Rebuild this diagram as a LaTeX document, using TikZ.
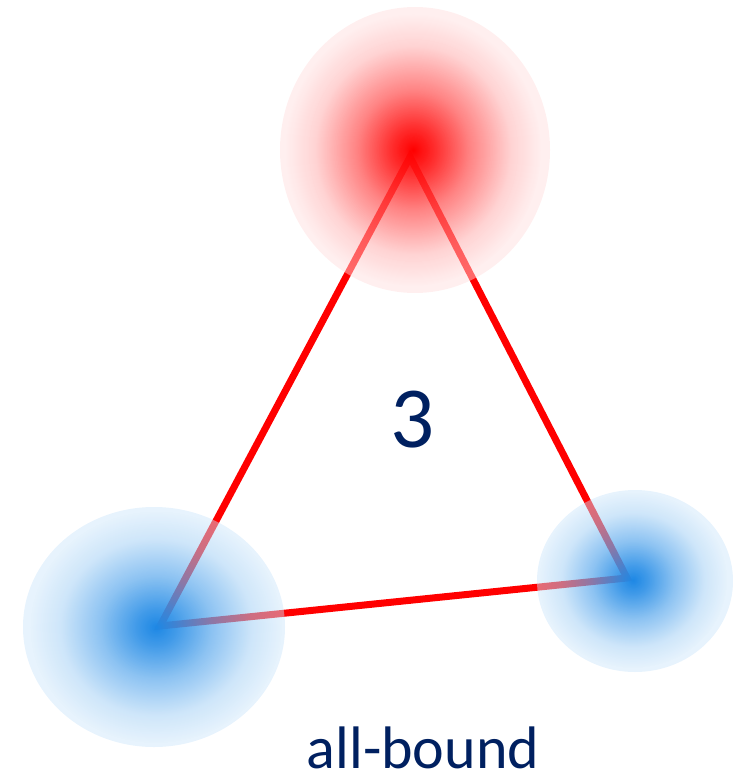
\documentclass[tikz,border=0pt]{standalone}
\usepackage{fontspec}
\setmainfont{Carlito}
\usetikzlibrary{fadings}
\pgfdeclareradialshading{glowshade}{\pgfpointorigin}{color(0bp)=(white); color(4bp)=(white!82!black); color(11bp)=(white!45!black); color(19bp)=(white!12!black); color(25bp)=(black); color(50bp)=(black)}
\pgfdeclarefading{glowfade}{\pgfuseshading{glowshade}}
\definecolor{navy}{RGB}{0,32,96}
\definecolor{pinkveil}{RGB}{255,222,222}
\definecolor{blueveil}{RGB}{203,229,250}
\definecolor{bluecore}{RGB}{30,136,229}
\begin{document}
\begin{tikzpicture}[x=1pt,y=-1pt,
  edge/.style={red, line width=7pt, line join=miter},
  veil/.style={fill opacity=0.47},
  glow/.style={path fading=glowfade}]
\useasboundingbox (0,0) rectangle (732,778);
\coordinate (T) at (410,157);
\coordinate (L) at (160,626);
\coordinate (R) at (627,578);
\draw[edge] (T) -- (L) -- (R) -- cycle;
% red blob
\fill[pinkveil, veil] (415,150) ellipse [x radius=135pt, y radius=143pt];
\fill[red, glow] (413,150) ellipse [x radius=128pt, y radius=136pt];
% left blue blob
\fill[blueveil, veil] (154,627) ellipse [x radius=131pt, y radius=120pt];
\fill[bluecore, glow] (156,627) ellipse [x radius=126pt, y radius=116pt];
% right blue blob
\fill[blueveil, veil] (635,581) ellipse [x radius=98pt, y radius=91pt];
\fill[bluecore, glow] (633,580) ellipse [x radius=94pt, y radius=88pt];
% texts
\node[text=navy, font=\fontsize{87}{87}\selectfont, anchor=base, inner sep=0pt] (three) at (413,447) {3};
\node[text=navy, font=\fontsize{60}{60}\selectfont, anchor=base, inner sep=0pt] (label) at (423,768) {all-bound};
\end{tikzpicture}
\end{document}
